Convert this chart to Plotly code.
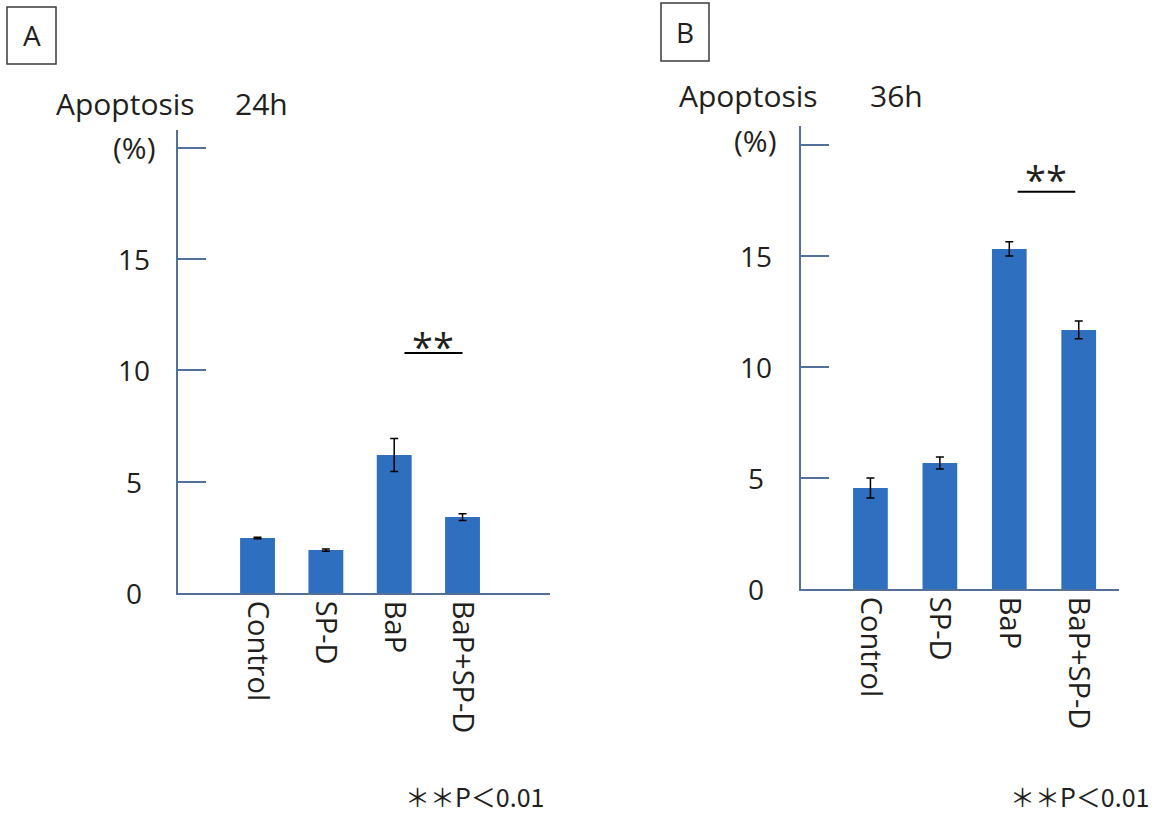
import plotly.graph_objects as go

W, H = 1157, 813

# ---------------- data ----------------
categories = ["Control", "SP-D", "BaP", "BaP+SP-D"]
apoptosis_24h = [2.47, 1.93, 6.20, 3.41]
err_24h = [0.03, 0.05, 0.74, 0.15]
apoptosis_36h = [4.55, 5.68, 15.32, 11.67]
err_36h = [0.45, 0.27, 0.32, 0.40]
y_tickvals = [0, 5, 10, 15, 20]
y_ticktext = ["0", "5", "10", "15", ""]
sig_label = "**"
footnote = "＊＊P＜0.01"
# significance bracket (category units, value units)
sig_24h = dict(x0=2.15, x1=3.0, y=10.78)
sig_36h = dict(x0=2.12, x1=2.95, y=17.9)

# ---------------- style ----------------
BAR = "#2e6fbf"
AXIS = "#53709b"
TXT = "#231f20"
FONT = "Open Sans"


def px_x(px):
    return px / W


def px_y(py):
    return 1 - py / H


fig = go.Figure()

fig.add_trace(go.Bar(
    x=categories, y=apoptosis_24h, width=0.51, marker=dict(color=BAR, line=dict(width=0)),
    error_y=dict(type="data", array=err_24h, color="black", thickness=1.5, width=4),
    xaxis="x", yaxis="y", showlegend=False))
fig.add_trace(go.Bar(
    x=categories, y=apoptosis_36h, width=0.5, marker=dict(color=BAR, line=dict(width=0)),
    error_y=dict(type="data", array=err_36h, color="black", thickness=1.5, width=4),
    xaxis="x2", yaxis="y2", showlegend=False))

xcommon = dict(type="category", showline=True, linecolor=AXIS, linewidth=2, ticks="",
               showgrid=False, zeroline=False, tickangle=90,
               tickfont=dict(family=FONT, size=29, color=TXT))
ycommon = dict(showline=True, linecolor=AXIS, linewidth=2, ticks="inside", ticklen=28,
               tickwidth=2, tickcolor=AXIS, tickvals=y_tickvals, showticklabels=False,
               showgrid=False, zeroline=False)

fig.update_layout(
    width=W, height=H, margin=dict(l=0, r=0, t=0, b=0),
    paper_bgcolor="white", plot_bgcolor="white",
    xaxis=dict(domain=[px_x(178), px_x(550)], range=[-1.164, 4.28], anchor="y", **xcommon),
    yaxis=dict(domain=[px_y(593), px_y(130)], range=[0, 20.8], anchor="x", **ycommon),
    xaxis2=dict(domain=[px_x(801), px_x(1119)], range=[-1.0, 3.58], anchor="y2", **xcommon),
    yaxis2=dict(domain=[px_y(589), px_y(126)], range=[0, 20.86], anchor="x2", **ycommon),
    bargap=0.3,
)

ann = []
shapes = []

# y tick labels, centred like the reference
for yref, xc in (("y", 134), ("y2", 756)):
    for v, t in zip(y_tickvals, y_ticktext):
        if t:
            ann.append(dict(text=t, xref="paper", x=px_x(xc), yref=yref, y=v,
                            xanchor="center", yanchor="middle", showarrow=False,
                            font=dict(family=FONT, size=28, color=TXT)))

# significance brackets
for (xr, yr), s, shift in ((("x", "y"), sig_24h, 7), (("x2", "y2"), sig_36h, 13)):
    shapes.append(dict(type="line", xref=xr, yref=yr, x0=s["x0"], x1=s["x1"],
                       y0=s["y"], y1=s["y"], line=dict(color="black", width=2)))
    ann.append(dict(text=sig_label, xref=xr, yref=yr, x=(s["x0"] + s["x1"]) / 2, y=s["y"],
                    xanchor="center", yanchor="middle", yshift=shift, showarrow=False,
                    font=dict(family=FONT, size=38, color=TXT)))

# panel boxes
for (x0, y0, x1, y1, lab) in ((7, 7, 56, 64, "A"), (661, 3, 709, 61, "B")):
    shapes.append(dict(type="rect", xref="paper", yref="paper", x0=px_x(x0), x1=px_x(x1),
                       y0=px_y(y1), y1=px_y(y0), line=dict(color="#3a3a3a", width=1.5)))
    ann.append(dict(text=lab, xref="paper", yref="paper", x=px_x((x0 + x1) / 2),
                    y=px_y((y0 + y1) / 2), xanchor="center", yanchor="middle",
                    showarrow=False, font=dict(family=FONT, size=28, color=TXT)))

# titles
for (ax, ay, hx, hlabel, px_, py_) in ((54, 103, 233, "24h", 134, 148),
                                       (677, 96, 868, "36h", 756, 141)):
    ann.append(dict(text="Apoptosis", xref="paper", yref="paper", x=px_x(ax), y=px_y(ay),
                    xanchor="left", yanchor="middle", showarrow=False,
                    font=dict(family=FONT, size=30, color=TXT)))
    ann.append(dict(text=hlabel, xref="paper", yref="paper", x=px_x(hx), y=px_y(ay),
                    xanchor="left", yanchor="middle", showarrow=False,
                    font=dict(family=FONT, size=30, color=TXT)))
    ann.append(dict(text="(%)", xref="paper", yref="paper", x=px_x(px_), y=px_y(py_),
                    xanchor="center", yanchor="middle", showarrow=False,
                    font=dict(family=FONT, size=30, color=TXT)))

# footnotes
for (fx, fy) in ((474, 796), (1079, 796)):
    ann.append(dict(text=footnote, xref="paper", yref="paper", x=px_x(fx), y=px_y(fy),
                    xanchor="center", yanchor="middle", showarrow=False,
                    font=dict(family="Noto Sans CJK JP", size=25, color=TXT)))

fig.update_layout(annotations=ann, shapes=shapes)
fig.write_html("out.html")
